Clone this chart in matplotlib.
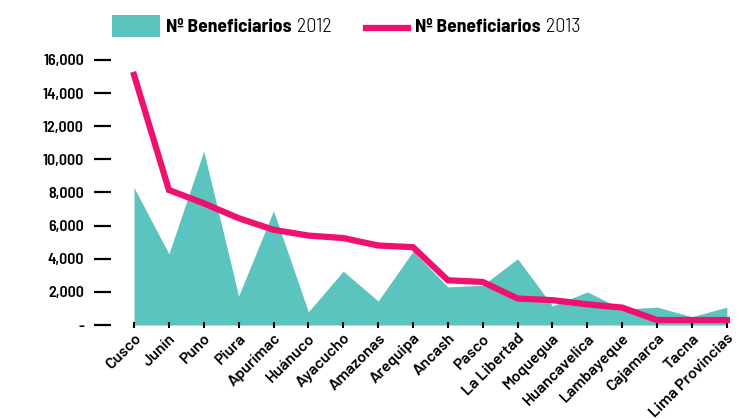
import matplotlib
matplotlib.use("Agg")
import matplotlib.pyplot as plt
from matplotlib.patches import Rectangle
from matplotlib.lines import Line2D
from matplotlib.ticker import FuncFormatter

regions = ["Cusco", "Junín", "Puno", "Piura", "Apurímac", "Huánuco", "Ayacucho",
           "Amazonas", "Arequipa", "Ancash", "Pasco", "La Libertad", "Moquegua",
           "Huancavelica", "Lambayeque", "Cajamarca", "Tacna", "Lima Provincias"]
benef_2012 = [8300, 4300, 10500, 1750, 6900, 800, 3250, 1450, 4450, 2300, 2400,
              4000, 1150, 2000, 950, 1080, 500, 1080]
benef_2013 = [15100, 8150, 7350, 6450, 5750, 5400, 5250, 4800, 4700, 2700, 2600,
              1600, 1500, 1250, 1050, 300, 300, 300]
yticks = [0, 2000, 4000, 6000, 8000, 10000, 12000, 14000, 16000]

TEAL = "#5BC4BF"
PINK = "#EE1170"
FONT = ["Barlow Semi Condensed", "DejaVu Sans"]
XFONT = ["Barlow", "DejaVu Sans"]
plt.rcParams["font.family"] = FONT

W, H = 756, 419
fig = plt.figure(figsize=(W / 100, H / 100), dpi=100)
ax = fig.add_axes([111 / W, 1 - 325 / H, (730 - 111) / W, (325 - 60) / H])

x = list(range(len(regions)))
ax.fill_between(x, 0, benef_2012, color=TEAL, lw=0, zorder=1)
ax.plot(x, benef_2013, color=PINK, lw=4.5, solid_joinstyle="miter", zorder=3)

ax.set_xlim(-0.66, 17.09)
ax.set_ylim(0, 16000)
for s in ax.spines.values():
    s.set_visible(False)

ax.set_yticks(yticks)
ax.yaxis.set_major_formatter(FuncFormatter(lambda v, p: "-" if v == 0 else f"{int(v):,}"))
ax.tick_params(axis="y", length=12.5, width=1.6, pad=7, labelsize=11.5, color="black")
for lab in ax.get_yticklabels():
    lab.set_fontweight(600)

ax.set_xticks(x)
ax.set_xticklabels(regions, rotation=45, ha="right", rotation_mode="anchor",
                   fontsize=11.5, fontweight=600, family=XFONT)
ax.tick_params(axis="x", direction="inout", length=5, width=1.5, pad=2, color="black")

# Legend (manual)
fig.add_artist(Rectangle((112 / W, 1 - 37 / H), 48 / W, 22 / H,
                         transform=fig.transFigure, color=TEAL, lw=0))
fig.add_artist(Line2D([366 / W, 408 / W], [1 - 28 / H, 1 - 28 / H],
                      transform=fig.transFigure, color=PINK, lw=4.5))
ty = 1 - 27 / H
renderer = fig.canvas.get_renderer()


def legend_label(x0, year):
    t1 = fig.text(x0 / W, ty, "Nº Beneficiarios", fontsize=14, fontweight="bold", va="center")
    bb = t1.get_window_extent(renderer)
    fig.text((bb.x1 + 5) / W, ty, year, fontsize=14.5, fontweight=300, va="center")


legend_label(166, "2012")
legend_label(415, "2013")

fig.savefig("out.png", dpi=100)
